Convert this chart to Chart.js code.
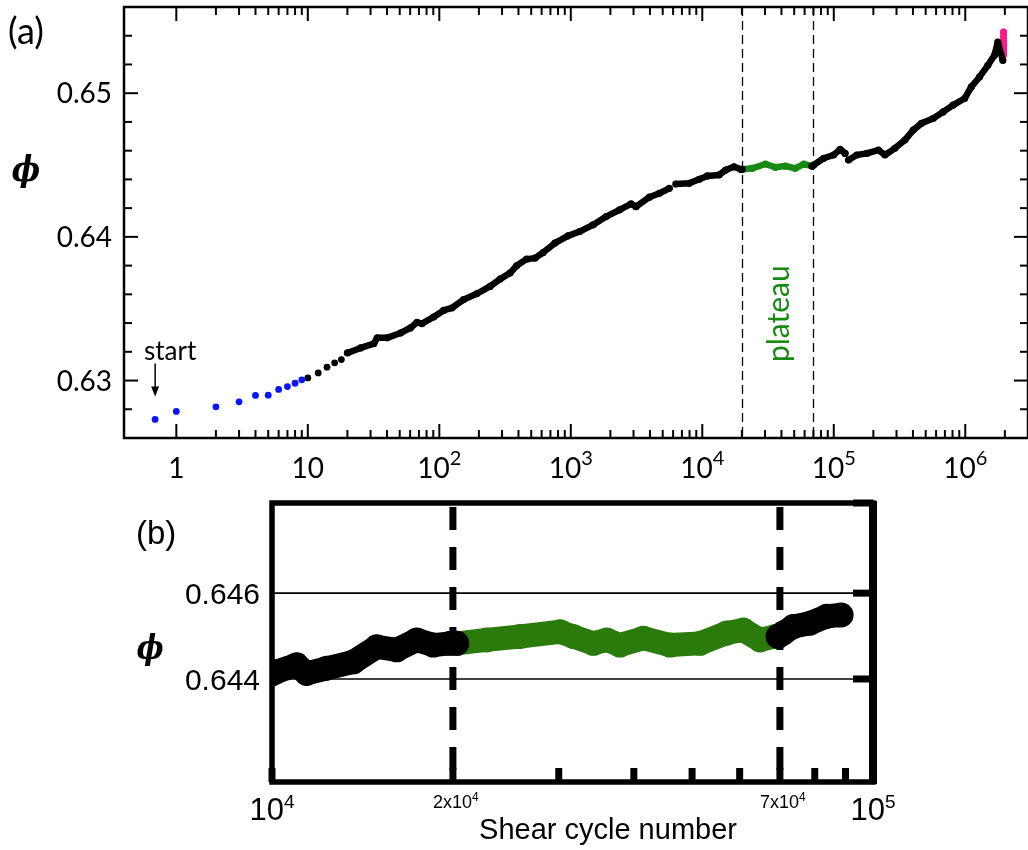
<!DOCTYPE html>
<html>
<head>
<meta charset="utf-8">
<script src="https://cdn.jsdelivr.net/npm/chart.js@4.4.0/dist/chart.umd.min.js"></script>
<style>
  html, body { margin: 0; padding: 0; background: #fff; width: 1028px; height: 850px; overflow: hidden; }
  #chartA { position: absolute; left: 0; top: 0; }
  #chartB { position: absolute; left: 0; top: 490px; }
</style>
</head>
<body>
<canvas id="chartA" width="1032" height="490"></canvas>
<canvas id="chartB" width="1028" height="360"></canvas>
<script>
// ---- panel (a): phi vs shear cycle number (log x) ----
const blueX = [0.69, 1, 2, 3, 4, 5, 6, 7, 8, 9];
const blueY = [0.62729, 0.62785, 0.62817, 0.62852, 0.62896, 0.62898, 0.62938, 0.62958, 0.62981, 0.63005];

const sparseX = [10, 12, 14, 16, 18];
const sparseY = [0.63018, 0.63053, 0.63093, 0.63123, 0.63146];

// dense black run, null = small gap in the data
const earlyX = [20, 25.2, 31.8, 33.7, 40.1, 50.7, 60.3, 67.7, 73.8, 90.5, 107.8, 124.6, 152.8, 192.7, 243.4,
  289.7, 344.9, 386.9, 460.8, 533.3, 616.3, 755.8, 953, 1168, 1474, 1858, 2348, 2873, 3135, 3960, 4715,
  5613, 5950, 6297, 7953, 9468, 10940, 13420, 15050, 17430, 19560, 20140];
const earlyY = [0.63192, 0.63227, 0.63257, 0.63297, 0.63297, 0.63331, 0.63366, 0.63405, 0.63396, 0.63442,
  0.63488, 0.63505, 0.63563, 0.63604, 0.63655, 0.63706, 0.63748, 0.63799, 0.63845, 0.63852, 0.63891,
  0.63956, 0.64007, 0.64037, 0.64083, 0.64141, 0.64188, 0.64229, 0.6421, 0.64276, 0.64303, 0.64338, null,
  0.64368, 0.64373, 0.64401, 0.64424, 0.64431, 0.64465, 0.64488, 0.6447, 0.6447];

const plateauX = [20140, 23980, 30230, 36000, 42850, 51010, 59060, 68280];
const plateauY = [0.6447, 0.64477, 0.64507, 0.64484, 0.64493, 0.64477, 0.64507, 0.64493];

const lateX = [68280, 70340, 83740, 99650, 111800, 122000, 126000, 129400, 149600, 178100, 218400, 245000,
  291600, 347200, 401900, 464500, 569600, 678200, 807300, 988300, 1111000, 1284000, 1486000, 1668000,
  1769000, 1930000];
const lateY = [0.64493, 0.645, 0.64547, 0.6457, 0.64609, 0.64581, null, 0.64535, 0.6457, 0.64581, 0.64604,
  0.6457, 0.64616, 0.64674, 0.64743, 0.6479, 0.64824, 0.6487, 0.64917, 0.64963, 0.65044, 0.65113, 0.65194,
  0.65264, 0.65356, 0.65229];

const pinkX = [1955000, 1958000, 1960000, 1962000, 1960000, 1958000];
const pinkY = [0.65426, 0.65395, 0.65365, 0.65335, 0.653, 0.65268];

const xTickValsA = [1, 10, 100, 1000, 1e4, 1e5, 1e6];
const xTickBaseA = ['1', '10', '10', '10', '10', '10', '10'];
const xTickExpA = ['', '', '2', '3', '4', '5', '6'];
const yTickValsA = [0.63, 0.64, 0.65];
const yTickLabelsA = ['0.63', '0.64', '0.65'];
const plateauEdges = [2e4, 7e4];

// ---- panel (b): zoom on the plateau ----
const bEarlyX = [10000, 10180, 10990, 11420, 12330, 13660, 14940, 16130, 17410, 18550, 19790, 20300];
const bEarlyY = [0.64412, 0.64417, 0.64433, 0.64413, 0.64425, 0.6444, 0.64475, 0.64468, 0.64491, 0.64479, 0.64483, 0.64483];

const bPlateauX = [20300, 22760, 25860, 30150, 31710, 34240, 36060, 37930, 41480, 45950, 51540, 57100, 60840, 64860, 68690];
const bPlateauY = [0.64483, 0.64491, 0.64499, 0.6451, 0.64499, 0.64483, 0.64491, 0.64479, 0.64495, 0.64479, 0.64483,
  0.64507, 0.64514, 0.64491, 0.64499];

const bLateX = [69500, 70920, 73680, 78570, 83750, 88500];
const bLateY = [0.64499, 0.64507, 0.64522, 0.6453, 0.64546, 0.64549];

const yGridB = [0.644, 0.646];
const yTickLabelsB = ['0.644', '0.646'];
const xMinorB = [1e4, 2e4, 3e4, 4e4, 5e4, 6e4, 7e4, 8e4, 9e4];
const xTickValsB = [1e4, 2e4, 7e4, 1e5];
const xTickBaseB = ['10', '2x10', '7x10', '10'];
const xTickExpB = ['4', '4', '4', '5'];

const BLACK = '#000000';
const BLUE = '#0a14ff';
const GREEN_A = '#188a14';
const PINK = '#ff1a8c';
const GREEN_B = '#2b7b0c';

const pts = (xs, ys) => xs.map((v, i) => ({ x: v, y: ys[i] }));

function dots(data, color, r) {
  return { data, showLine: false, pointRadius: r, pointBorderWidth: 0, pointBackgroundColor: color, backgroundColor: color, borderColor: color };
}

function band(data, color, width, r) {
  return {
    data, showLine: true, spanGaps: false, borderColor: color, backgroundColor: color, borderWidth: width,
    borderJoinStyle: 'round', borderCapStyle: 'round', pointRadius: r, pointBorderWidth: 0, pointBackgroundColor: color
  };
}

function drawPow(ctx, base, exp, cx, baseline, font, supFont, rise) {
  ctx.font = font;
  const wb = ctx.measureText(base).width;
  ctx.font = supFont;
  const we = exp ? ctx.measureText(exp).width : 0;
  const x0 = cx - (wb + we) / 2;
  ctx.textAlign = 'left';
  ctx.textBaseline = 'alphabetic';
  ctx.font = font;
  ctx.fillText(base, x0, baseline);
  if (exp) {
    ctx.font = supFont;
    ctx.fillText(exp, x0 + wb, baseline - rise);
  }
}

function line(ctx, x1, y1, x2, y2) {
  ctx.beginPath();
  ctx.moveTo(x1, y1);
  ctx.lineTo(x2, y2);
  ctx.stroke();
}

function drawPhi(ctx, cx, cy, size) {
  ctx.save();
  ctx.translate(cx, cy);
  ctx.scale(0.85, 1);
  ctx.font = 'italic bold ' + size + 'px "DejaVu Serif"';
  ctx.textAlign = 'center';
  ctx.textBaseline = 'middle';
  ctx.fillText('\u03D5', 0, 0);
  ctx.restore();
}

const panelA = {
  id: 'panelA',
  beforeDatasetsDraw(chart) {
    const { ctx, chartArea: a, scales: { x } } = chart;
    ctx.save();
    ctx.strokeStyle = BLACK;
    ctx.lineWidth = 1.3;
    ctx.setLineDash([9, 5]);
    plateauEdges.forEach(v => {
      const px = Math.round(x.getPixelForValue(v)) + 0.5;
      line(ctx, px, a.top, px, a.bottom);
    });
    ctx.restore();
  },
  afterDraw(chart) {
    const { ctx, chartArea: a, scales: { x, y } } = chart;
    ctx.save();
    ctx.strokeStyle = BLACK;
    ctx.fillStyle = BLACK;

    // inward ticks, all four sides
    ctx.lineWidth = 2;
    for (let d = 1; d <= 1e6; d *= 10) {
      for (let k = 1; k <= 9; k++) {
        const v = k * d;
        if (v > 2.9e6) break;
        const px = x.getPixelForValue(v);
        const len = k === 1 ? 14 : 8;
        line(ctx, px, a.top, px, a.top + len);
        line(ctx, px, a.bottom, px, a.bottom - len);
      }
    }
    for (let i = 314; i <= 327; i++) {
      const py = y.getPixelForValue(i * 0.002);
      const len = i % 5 === 0 ? 14 : 8;
      line(ctx, a.left, py, a.left + len, py);
      line(ctx, a.right, py, a.right - len, py);
    }

    // frame
    ctx.lineWidth = 2.5;
    ctx.strokeRect(a.left, a.top, a.right - a.left, a.bottom - a.top);

    // tick labels
    xTickValsA.forEach((v, i) => {
      drawPow(ctx, xTickBaseA[i], xTickExpA[i], x.getPixelForValue(v), 478, '28px Lato', '20px Lato', 13);
    });
    ctx.font = '28px Lato';
    ctx.textAlign = 'right';
    ctx.textBaseline = 'middle';
    yTickValsA.forEach((v, i) => ctx.fillText(yTickLabelsA[i], 112, y.getPixelForValue(v) + 1));

    // panel letter and axis symbol
    ctx.textAlign = 'left';
    ctx.textBaseline = 'alphabetic';
    ctx.font = '36px Lato';
    ctx.fillText('(a)', 8, 44);
    drawPhi(ctx, 26, 172, 36);

    // "start" annotation with arrow
    const sx = x.getPixelForValue(blueX[0]);
    const yTop = y.getPixelForValue(0.63118);
    const yTip = y.getPixelForValue(0.62889);
    ctx.font = '26px Lato';
    ctx.textAlign = 'center';
    ctx.textBaseline = 'alphabetic';
    ctx.fillText('start', sx + 15, y.getPixelForValue(0.63146));
    ctx.lineWidth = 1.5;
    line(ctx, sx, yTop, sx, yTip - 8);
    ctx.beginPath();
    ctx.moveTo(sx - 4, yTip - 10);
    ctx.lineTo(sx + 4, yTip - 10);
    ctx.lineTo(sx, yTip);
    ctx.closePath();
    ctx.fill();

    // "plateau" label between the dashed lines
    const cx = x.getPixelForValue(Math.sqrt(plateauEdges[0] * plateauEdges[1]));
    ctx.translate(cx + 2, y.getPixelForValue(0.63465));
    ctx.rotate(-Math.PI / 2);
    ctx.fillStyle = GREEN_A;
    ctx.font = '30px Lato';
    ctx.textAlign = 'center';
    ctx.textBaseline = 'middle';
    ctx.fillText('plateau', 0, 0);
    ctx.restore();
  }
};

const panelB = {
  id: 'panelB',
  beforeDatasetsDraw(chart) {
    const { ctx, chartArea: a, scales: { x, y } } = chart;
    ctx.save();
    ctx.strokeStyle = BLACK;
    ctx.lineWidth = 1.6;
    yGridB.forEach(v => {
      const py = y.getPixelForValue(v);
      line(ctx, a.left, py, a.right, py);
    });
    ctx.lineWidth = 7;
    ctx.setLineDash([23, 17]);
    plateauEdges.forEach(v => {
      const px = x.getPixelForValue(v);
      line(ctx, px, a.top + 4, px, a.bottom);
    });
    ctx.restore();
  },
  afterDraw(chart) {
    const { ctx, chartArea: a, scales: { x, y } } = chart;
    ctx.save();
    ctx.strokeStyle = BLACK;
    ctx.fillStyle = BLACK;

    // thick ticks: bottom (upward) and right (leftward)
    ctx.lineWidth = 7;
    xMinorB.forEach(v => {
      const px = x.getPixelForValue(v);
      line(ctx, px, a.bottom, px, a.bottom - 14);
    });
    yGridB.concat([0.6481]).forEach(v => {
      const py = y.getPixelForValue(v);
      line(ctx, a.right, py, a.right - 20, py);
    });

    // frame
    ctx.lineWidth = 5.5;
    ctx.strokeRect(a.left, a.top, a.right - a.left, a.bottom - a.top);
    ctx.lineWidth = 8;
    line(ctx, a.right, a.top - 2, a.right, a.bottom + 2);

    // labels
    xTickValsB.forEach((v, i) => {
      const px = x.getPixelForValue(v);
      if (i === 0 || i === xTickValsB.length - 1) {
        drawPow(ctx, xTickBaseB[i], xTickExpB[i], px, 330, '31px "Liberation Sans"', '19px "Liberation Sans"', 12);
      } else {
        drawPow(ctx, xTickBaseB[i], xTickExpB[i], px + 3, 318, '18px "Liberation Sans"', '12px "Liberation Sans"', 7);
      }
    });
    ctx.font = '30px "Liberation Sans"';
    ctx.textAlign = 'right';
    ctx.textBaseline = 'middle';
    yGridB.forEach((v, i) => ctx.fillText(yTickLabelsB[i], 260, y.getPixelForValue(v) + 3));

    ctx.textAlign = 'center';
    ctx.textBaseline = 'alphabetic';
    ctx.font = '29px "Liberation Sans"';
    ctx.fillText('Shear cycle number', 608, 349);

    ctx.textAlign = 'left';
    ctx.font = '33px "Liberation Sans"';
    ctx.fillText('(b)', 136, 54);

    drawPhi(ctx, 150, 160, 34);
    ctx.restore();
  }
};

new Chart(document.getElementById('chartA'), {
  type: 'scatter',
  data: {
    datasets: [
      dots(pts(blueX, blueY), BLUE, 3.4),
      dots(pts(sparseX, sparseY), BLACK, 3.4),
      band(pts(earlyX, earlyY), BLACK, 6.5, 3.6),
      band(pts(lateX, lateY), BLACK, 6.5, 3.6),
      band(pts(plateauX, plateauY), GREEN_A, 6.5, 3.6),
      band(pts(pinkX, pinkY), PINK, 6.5, 3.5)
    ]
  },
  options: {
    responsive: false,
    animation: false,
    events: [],
    layout: { padding: { left: 124, top: 7, right: 0, bottom: 52 } },
    scales: {
      x: { type: 'logarithmic', min: 0.4, max: 3e6, display: false },
      y: { type: 'linear', min: 0.626, max: 0.656, display: false }
    },
    plugins: { legend: { display: false }, tooltip: { enabled: false } }
  },
  plugins: [panelA]
});

new Chart(document.getElementById('chartB'), {
  type: 'scatter',
  data: {
    datasets: [
      Object.assign(band(pts(bEarlyX, bEarlyY), BLACK, 24, 12.5), { clip: 0 }),
      Object.assign(band(pts(bLateX, bLateY), BLACK, 24, 12.5), { clip: 0 }),
      Object.assign(band(pts(bPlateauX, bPlateauY), GREEN_B, 24, 12.5), { clip: 0 })
    ]
  },
  options: {
    responsive: false,
    animation: false,
    events: [],
    layout: { padding: { left: 272, top: 13, right: 155, bottom: 68 } },
    scales: {
      x: { type: 'logarithmic', min: 1e4, max: 1e5, display: false },
      y: { type: 'linear', min: 0.6416, max: 0.6481, display: false }
    },
    plugins: { legend: { display: false }, tooltip: { enabled: false } }
  },
  plugins: [panelB]
});
</script>
</body>
</html>
